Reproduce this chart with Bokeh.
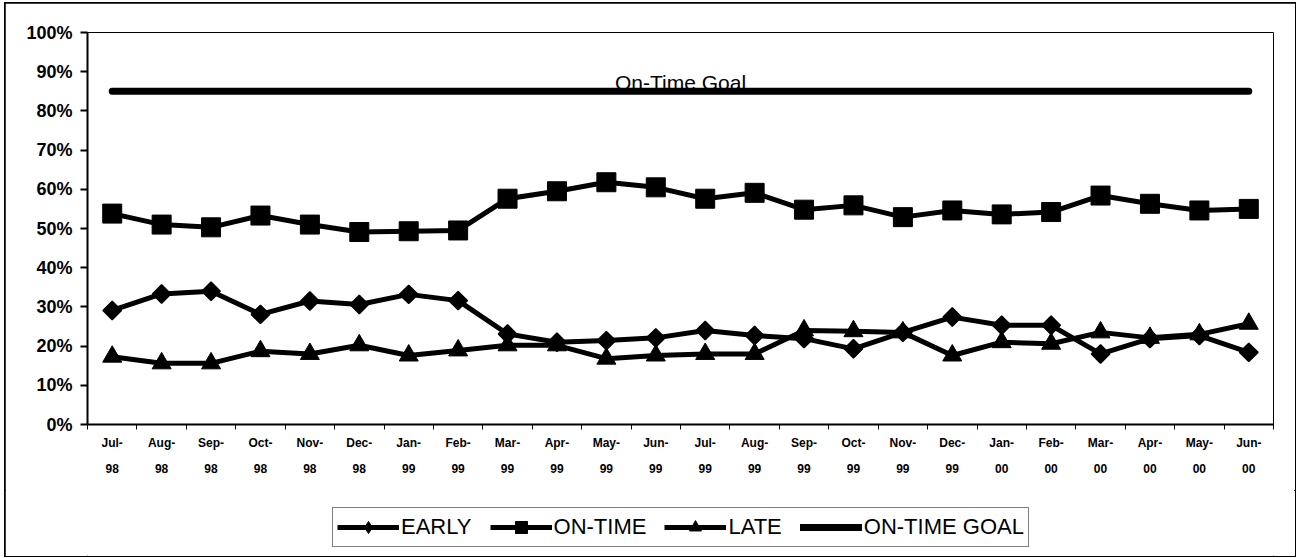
import math
from bokeh.plotting import figure
from bokeh.layouts import column
from bokeh.models import (Range1d, FixedTicker, Legend, LegendItem, Label,
                          PrintfTickFormatter)
from bokeh.embed import file_html
from bokeh.resources import INLINE

months = ["Jul-98", "Aug-98", "Sep-98", "Oct-98", "Nov-98", "Dec-98",
          "Jan-99", "Feb-99", "Mar-99", "Apr-99", "May-99", "Jun-99",
          "Jul-99", "Aug-99", "Sep-99", "Oct-99", "Nov-99", "Dec-99",
          "Jan-00", "Feb-00", "Mar-00", "Apr-00", "May-00", "Jun-00"]

early = [29.1, 33.3, 34.0, 28.1, 31.5, 30.6, 33.2, 31.6, 23.1, 21.0, 21.4, 22.1,
         24.0, 22.7, 21.9, 19.3, 23.5, 27.4, 25.3, 25.3, 18.0, 21.9, 22.7, 18.4]
on_time = [53.8, 51.0, 50.3, 53.3, 51.0, 49.1, 49.3, 49.5, 57.6, 59.5, 61.8, 60.5,
           57.6, 59.1, 54.8, 55.9, 52.9, 54.6, 53.6, 54.2, 58.4, 56.3, 54.6, 55.0]
late = [17.3, 15.6, 15.6, 18.7, 18.0, 20.2, 17.6, 18.9, 20.2, 20.2, 16.8, 17.6,
        18.0, 18.0, 24.0, 23.8, 23.5, 17.6, 21.0, 20.6, 23.5, 22.1, 23.0, 25.7]
goal_value = 85
goal = [goal_value] * len(months)

series_names = ["EARLY", "ON-TIME", "LATE", "ON-TIME GOAL"]
y_ticks = [0, 10, 20, 30, 40, 50, 60, 70, 80, 90, 100]

n = len(months)
xs = [i + 0.5 for i in range(n)]
bounds = list(range(n + 1))
tick_labels = {x: m.replace("-", "-\n") for x, m in zip(xs, months)}

FONT = "Liberation Sans"

p = figure(width=1290, height=487, output_backend="svg", toolbar_location=None,
           x_range=Range1d(0, n), y_range=Range1d(0, 100),
           min_border_left=82, min_border_right=22, min_border_top=29,
           min_border_bottom=66)
p.background_fill_color = "white"
p.border_fill_color = "white"
p.outline_line_color = "black"
p.outline_line_width = 1
p.xgrid.visible = False
p.ygrid.visible = False

# y axis
p.yaxis.ticker = FixedTicker(ticks=y_ticks, minor_ticks=[])
p.yaxis.formatter = PrintfTickFormatter(format="%d%%")
p.yaxis.axis_line_width = 2
p.yaxis.major_tick_line_width = 2
p.yaxis.major_tick_out = 7
p.yaxis.major_tick_in = 0
p.yaxis.major_label_standoff = 8
p.yaxis.major_label_text_font = FONT
p.yaxis.major_label_text_font_style = "bold"
p.yaxis.major_label_text_font_size = "18px"
p.yaxis.major_label_text_color = "black"

# x axis
p.xaxis.ticker = FixedTicker(ticks=xs, minor_ticks=bounds)
p.xaxis.major_label_overrides = tick_labels
p.xaxis.axis_line_width = 2
p.xaxis.major_tick_out = 0
p.xaxis.major_tick_in = 0
p.xaxis.minor_tick_out = 5
p.xaxis.minor_tick_in = 0
p.xaxis.minor_tick_line_width = 1
p.xaxis.minor_tick_line_color = "black"
p.xaxis.major_label_standoff = 6
p.xaxis.major_label_text_font = FONT
p.xaxis.major_label_text_font_style = "bold"
p.xaxis.major_label_text_font_size = "12px"
p.xaxis.major_label_text_line_height = 1.9
p.xaxis.major_label_text_color = "black"


def draw_series(fig, ys, marker, size, angle=0.0, lw_marker=1.0):
    ln = fig.line(xs, ys, line_width=5, line_color="black", line_join="round")
    pts = fig.scatter(xs, ys, marker=marker, size=size, angle=angle,
                      fill_color="black", line_color="black", line_width=lw_marker)
    return ln, pts


def draw_goal(fig):
    return fig.line(xs, goal, line_width=7, line_color="black", line_cap="round")


# series
draw_goal(p)
draw_series(p, early, "square", 13, angle=math.pi / 4, lw_marker=1.5)
draw_series(p, on_time, "square", 19)
draw_series(p, late, "triangle", 19)

p.add_layout(Label(x=12, y=goal_value, text="On-Time Goal", text_align="center",
                   text_baseline="alphabetic", y_offset=9,
                   text_font=FONT, text_font_size="21px", text_color="black"))

# legend strip below the chart (series drawn out of view, only for legend glyphs)
q = figure(width=1290, height=66, output_backend="svg", toolbar_location=None,
           x_range=Range1d(0, n), y_range=Range1d(1000, 1001),
           min_border_left=0, min_border_right=0, min_border_top=0, min_border_bottom=0,
           x_axis_type=None, y_axis_type=None)
q.outline_line_color = None
q.background_fill_color = "white"
q.border_fill_color = "white"
q.xgrid.visible = False
q.ygrid.visible = False

le = draw_series(q, early, "diamond", 20)
lo = draw_series(q, on_time, "square", 19)
ll = draw_series(q, late, "triangle", 19)
lg = draw_goal(q)

legend = Legend(items=[
    LegendItem(label=series_names[0], renderers=list(le)),
    LegendItem(label=series_names[1], renderers=list(lo)),
    LegendItem(label=series_names[2], renderers=list(ll)),
    LegendItem(label=series_names[3], renderers=[lg]),
], orientation="horizontal", location=(245, 9))
legend.border_line_color = "black"
legend.border_line_width = 1.5
legend.background_fill_color = "white"
legend.background_fill_alpha = 1
legend.glyph_width = 62
legend.glyph_height = 30
legend.label_standoff = 2
legend.spacing = 18
legend.padding = 4
legend.margin = 0
legend.label_text_font = FONT
legend.label_text_font_size = "22px"
legend.label_text_color = "black"
q.add_layout(legend)

layout = column(p, q, spacing=0)
layout.styles = {"outline": "2px solid black", "outline-offset": "-1px",
                 "margin-left": "5px", "margin-top": "3px"}

open("out.html", "w").write(file_html(layout, INLINE))
